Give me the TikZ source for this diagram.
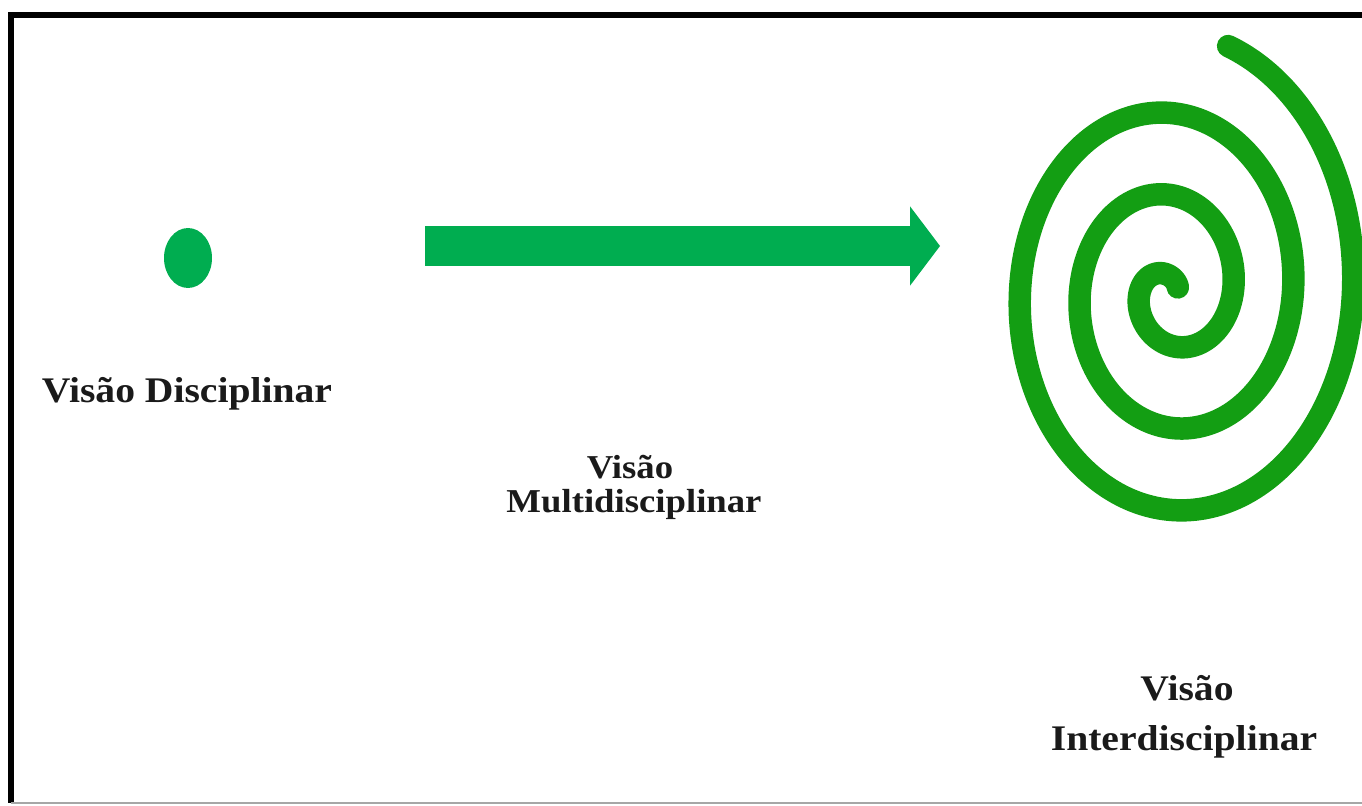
\documentclass[tikz,border=0pt]{standalone}
\usepackage{fontspec}
\setmainfont{Liberation Serif}[FakeStretch=1.1]
\usepackage{tikz}
\usetikzlibrary{arrows.meta,shapes.geometric}
\definecolor{dotgreen}{RGB}{0,173,80}
\definecolor{spiralgreen}{RGB}{19,158,19}
\definecolor{inkgray}{RGB}{26,26,26}

\begin{document}
\begin{tikzpicture}[x=0.02cm,y=-0.02cm,
  lbl/.style={font=\fontsize{20.5}{28}\selectfont\bfseries, text=inkgray, inner sep=0pt, anchor=base},
  smalllbl/.style={lbl, font=\fontsize{19}{26}\selectfont\bfseries},
  dot/.style={ellipse, fill=dotgreen, minimum width=0.96cm, minimum height=1.2cm, inner sep=0pt},
  bigarrow/.style={draw=dotgreen, line width=23pt, -{Triangle[length=17pt,width=45pt,line width=0pt,fill=dotgreen]}},
  spiral/.style={draw=spiralgreen, line width=12.8pt, line cap=round, line join=round}]
\useasboundingbox (0,0) rectangle (1362,805);
% frame
\draw[black, line width=3.2pt] (1362,15) -- (11,15) -- (11,803);
\draw[gray!70, line width=1.2pt] (11,803) -- (1362,803);
% disciplinar
\node[dot] (disc) at (188,258) {};
\node[lbl] (disctxt) at (187,402) {Visão Disciplinar};
% multidisciplinar
\coordinate (arrowtail) at (425,246);
\coordinate (arrowtip) at (940,246);
\draw[bigarrow] (arrowtail) -- (arrowtip);
\node[smalllbl] (multi1) at (630,478) {Visão};
\node[smalllbl] (multi2) at (634,512) {Multidisciplinar};
% interdisciplinar
\draw[spiral] plot[domain=-73:1030, samples=400, smooth, variable=\t]
  ({1171.5+(181.5-\t/6)*cos(\t)}, {291+(239.5-0.228*\t)*sin(\t)});
\node[lbl] (inter1) at (1187,700) {Visão};
\node[lbl] (inter2) at (1184,750) {Interdisciplinar};
\end{tikzpicture}
\end{document}
